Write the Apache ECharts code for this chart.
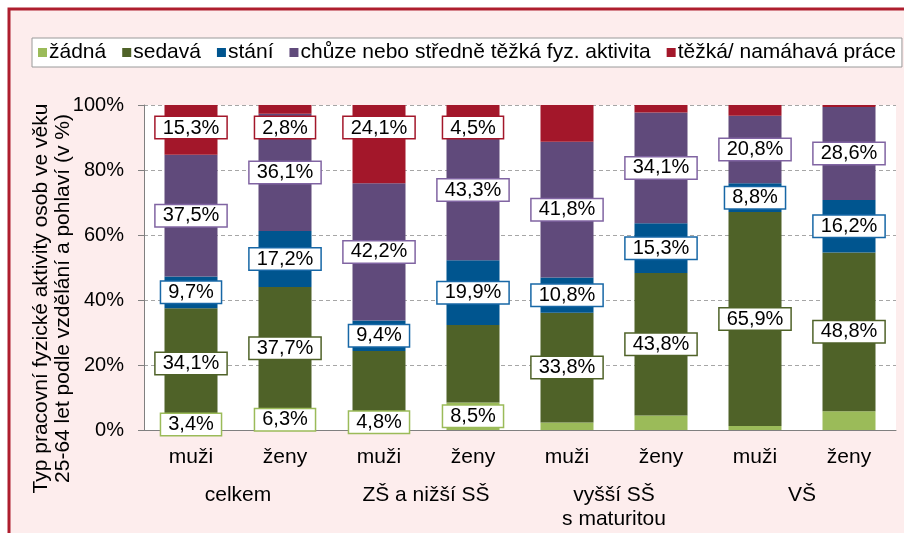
<!DOCTYPE html>
<html>
<head>
    <meta charset="UTF-8">
    <script src="https://cdn.jsdelivr.net/npm/echarts@6/dist/echarts.min.js"></script>
    <style>
        html, body { margin: 0; padding: 0; background: #fff; }
    </style>
</head>
<body>
    <div id="chart" style="width:904px;height:533px"></div>
    <script type="text/javascript">
        // kategorie (pohlaví) a skupiny vzdělání
        var pohlavi = ['muži', 'ženy', 'muži', 'ženy', 'muži', 'ženy', 'muži', 'ženy'];
        var vzdelani = ['celkem', 'ZŠ a nižší SŠ', 'vyšší SŠ\ns maturitou', 'VŠ'];

        var seriesNames = ['žádná', 'sedavá', 'stání', 'chůze nebo středně těžká fyz. aktivita', 'těžká/ namáhavá práce'];

        // hodnoty v %
        var zadna  = [3.4, 6.3, 4.8, 8.5, 2.3, 4.5, 1.2, 5.8];
        var sedava = [34.1, 37.7, 19.5, 23.8, 33.8, 43.8, 65.9, 48.8];
        var stani  = [9.7, 17.2, 9.4, 19.9, 10.8, 15.3, 8.8, 16.2];
        var chuze  = [37.5, 36.1, 42.2, 43.3, 41.8, 34.1, 20.8, 28.6];
        var tezka  = [15.3, 2.8, 24.1, 4.5, 11.3, 2.3, 3.3, 0.6];

        // ktere hodnoty maji popisek
        var zadnaLbl  = [1, 1, 1, 1, 0, 0, 0, 0];
        var sedavaLbl = [1, 1, 0, 0, 1, 1, 1, 1];
        var staniLbl  = [1, 1, 1, 1, 1, 1, 1, 1];
        var chuzeLbl  = [1, 1, 1, 1, 1, 1, 1, 1];
        var tezkaLbl  = [1, 1, 1, 1, 0, 0, 0, 0];

        var yTicks = [0, 20, 40, 60, 80, 100];

        var colors = ['#9BBB59', '#4F6228', '#00558F', '#604A7B', '#A3172A'];
        var borders = ['#9BBB59', '#4F6228', '#1767A6', '#8064A2', '#A3172A'];

        var font = 'Liberation Sans, Arial, sans-serif';

        function fmt(v) {
            return v.toFixed(1).replace('.', ',') + '%';
        }

        function makeSeries(idx, values, flags, pos) {
            return {
                name: seriesNames[idx],
                type: 'bar',
                stack: 'all',
                barWidth: 53,
                itemStyle: { color: colors[idx] },
                data: values.map(function (v, i) {
                    return {
                        value: v,
                        label: { show: flags[i] === 1 }
                    };
                }),
                label: {
                    position: pos,
                    distance: 12,
                    formatter: function (p) { return fmt(p.value); },
                    fontFamily: font,
                    fontSize: 20,
                    color: '#000',
                    backgroundColor: '#fff',
                    borderColor: borders[idx],
                    borderWidth: 1.5,
                    padding: [1, 7, 0, 7]
                },
                emphasis: { disabled: true }
            };
        }

        var myChart = echarts.init(document.getElementById('chart'));
        var option = {
            backgroundColor: '#fff',
            animation: false,
            graphic: [
                {
                    type: 'rect',
                    z: -10,
                    shape: { x: 9, y: 9, width: 910, height: 540 },
                    style: { fill: '#FDEDED', stroke: '#AE1E2E', lineWidth: 3 }
                }
            ],
            legend: {
                left: 32,
                top: 38,
                width: 880,
                backgroundColor: '#fff',
                borderColor: '#9a9a9a',
                borderWidth: 1,
                padding: [4, 6, 4, 6],
                itemWidth: 9,
                itemHeight: 9,
                itemGap: 16,
                icon: 'rect',
                textStyle: { fontFamily: font, fontSize: 21, color: '#000', padding: [0, 0, 0, -3] },
                data: seriesNames
            },
            grid: {
                left: 144,
                right: 8,
                top: 105,
                bottom: 103,
                show: true,
                backgroundColor: '#fff',
                borderWidth: 0
            },
            xAxis: [
                {
                    type: 'category',
                    data: pohlavi,
                    axisLine: { lineStyle: { color: '#808080' } },
                    axisTick: { length: 38, interval: 0, lineStyle: { color: '#808080' } },
                    axisLabel: { interval: 0, margin: 17, fontFamily: font, fontSize: 21, color: '#000' }
                },
                {
                    type: 'category',
                    position: 'bottom',
                    data: vzdelani,
                    axisLine: { show: false },
                    axisTick: { length: 100, interval: 0, lineStyle: { color: '#808080' } },
                    axisLabel: { interval: 0, margin: 53, fontFamily: font, fontSize: 21, color: '#000', lineHeight: 24 }
                }
            ],
            yAxis: {
                type: 'value',
                min: yTicks[0],
                max: yTicks[yTicks.length - 1],
                interval: 20,
                name: 'Typ pracovní fyzické aktivity osob ve věku\n25-64 let podle vzdělání a pohlaví (v %)',
                nameLocation: 'middle',
                nameGap: 70,
                nameMoveOverlap: false,
                nameTextStyle: { fontFamily: font, fontSize: 21, color: '#000', lineHeight: 22, padding: [0, 62, 0, 0] },
                axisLine: { show: true, lineStyle: { color: '#808080' } },
                axisTick: { show: true, length: 6, lineStyle: { color: '#808080' } },
                axisLabel: { formatter: '{value}%', margin: 20, fontFamily: font, fontSize: 20, color: '#000' },
                splitLine: { lineStyle: { color: '#a6a6a6', type: [4, 3] } }
            },
            series: [
                makeSeries(0, zadna, zadnaLbl, 'inside'),
                makeSeries(1, sedava, sedavaLbl, 'inside'),
                makeSeries(2, stani, staniLbl, 'inside'),
                makeSeries(3, chuze, chuzeLbl, 'inside'),
                makeSeries(4, tezka, tezkaLbl, 'insideTop')
            ]
        };
        myChart.setOption(option);
    </script>
</body>
</html>
